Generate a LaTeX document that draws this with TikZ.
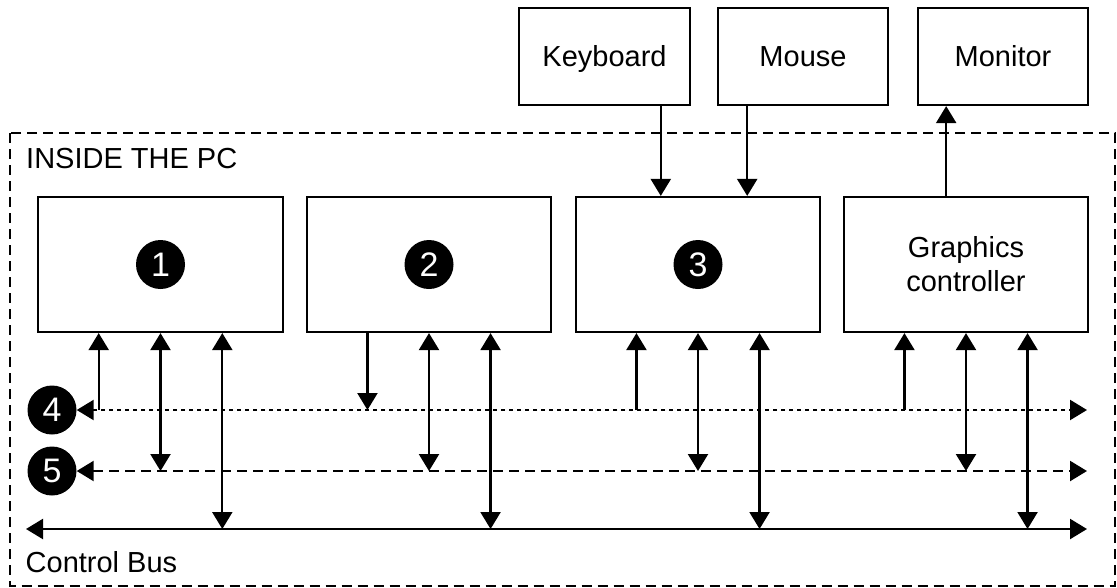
\documentclass[tikz,border=0pt]{standalone}
\usepackage{fontspec}
\setmainfont{Liberation Sans}
\usetikzlibrary{arrows.meta,calc}
\begin{document}
\begin{tikzpicture}[x=1pt,y=-1pt,
  lbl/.style={font=\fontsize{29}{34}\selectfont},
  box/.style={draw,line width=2.2pt,inner sep=0pt,lbl,align=center},
  dev/.style={box,text height=20.7pt,text depth=0pt,minimum height=97pt},
  num/.style={circle,fill=black,text=white,inner sep=0pt,minimum size=49pt,font=\fontsize{34}{34}\selectfont},
  tip/.style={},
  arr/.style={line width=2.3pt,-{Triangle[length=17pt,width=20pt]}},
  darr/.style={line width=2.3pt,{Triangle[length=17pt,width=20pt]}-{Triangle[length=17pt,width=20pt]}},
  dotbus/.style={darr,dash pattern=on 4pt off 4pt},
  dashbus/.style={darr,dash pattern=on 10pt off 6pt},
  border/.style={line width=2pt,dash pattern=on 10pt off 6pt}
]
\useasboundingbox (0,0) rectangle (1117,587);
% outer border
\draw[border] (10,133) rectangle (1115,585.5);
\node[lbl,anchor=base west,inner sep=0pt] (inside) at (26,168) {INSIDE THE PC};
\node[lbl,anchor=base west,inner sep=0pt] (cbus) at (25.5,572.5) {Control Bus};
% top devices
\node[dev,minimum width=171pt] (kb) at (604.5,56.5) {Keyboard};
\node[dev,minimum width=170pt] (ms) at (803,56.5) {Mouse};
\node[dev,minimum width=170pt] (mon) at (1003,56.5) {Monitor};
% internal boxes
\node[box,minimum width=245pt,minimum height=135pt] (b1) at (160.5,264.5) {};
\node[box,minimum width=244pt,minimum height=135pt] (b2) at (429,264.5) {};
\node[box,minimum width=244pt,minimum height=135pt] (b3) at (698,264.5) {};
\node[box,minimum width=244pt,minimum height=135pt] (gc) at (966,264.5) {Graphics\\controller};
\node[num] (n1) at (b1.center) {1};
\node[num] (n2) at (b2.center) {2};
\node[num] (n3) at (b3.center) {3};
% bus labels
\node[num] (n4) at (52,410) {4};
\node[num] (n5) at (52,471) {5};
\coordinate (bus4R) at (1087,410);
\coordinate (bus5R) at (1087,471);
\coordinate (busCL) at (26,529);
\coordinate (busCR) at (1087,529);
% buses
\draw[dotbus] (n4.east) -- (bus4R);
\draw[dashbus] (n5.east) -- (bus5R);
\draw[darr] (busCL) -- (busCR);
% connections to buses
\foreach \b in {b1,b2,b3,gc}{
  \coordinate (\b-q1) at ($(\b.south west)!.25!(\b.south east)$);
  \coordinate (\b-q2) at ($(\b.south west)!.5!(\b.south east)$);
  \coordinate (\b-q3) at ($(\b.south west)!.75!(\b.south east)$);
  \draw[darr] (\b-q2) -- (\b-q2 |- bus5R);
  \draw[darr] (\b-q3) -- (\b-q3 |- busCR);
}
\draw[arr] (b1-q1 |- bus4R) -- (b1-q1);
\draw[arr] (b2-q1) -- (b2-q1 |- bus4R);
\draw[arr] (b3-q1 |- bus4R) -- (b3-q1);
\draw[arr] (gc-q1 |- bus4R) -- (gc-q1);
% peripherals
\coordinate (kbx) at ($(kb.south west)!.825!(kb.south east)$);
\coordinate (msx) at ($(ms.south west)!.176!(ms.south east)$);
\coordinate (monx) at ($(mon.south west)!.17!(mon.south east)$);
\draw[arr] (kbx) -- (kbx |- b3.north);
\draw[arr] (msx) -- (msx |- b3.north);
\draw[arr] (monx |- gc.north) -- (monx);
\end{tikzpicture}
\end{document}
